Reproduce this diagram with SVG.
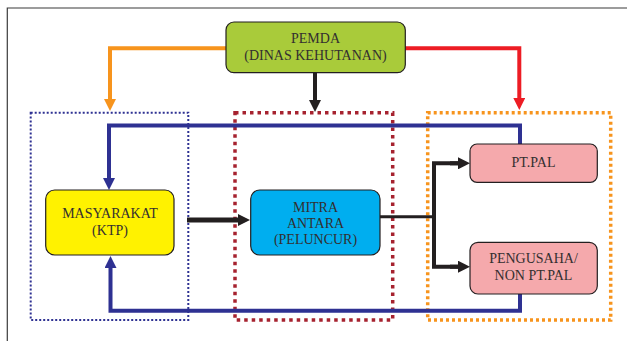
<svg xmlns="http://www.w3.org/2000/svg" width="627" height="341" viewBox="0 0 627 341">
<defs>
<style>
.box{stroke:#231F20;stroke-width:1.2}
.t{font-family:"Liberation Serif","Times New Roman",serif;font-size:14px;fill:#332f30;text-anchor:middle}
.ln{fill:none;stroke-linejoin:miter}
</style>
<marker id="ah-orange" viewBox="0 0 12 12" refX="0" refY="6" markerWidth="12" markerHeight="12" markerUnits="userSpaceOnUse" orient="auto"><path d="M0,0 L12,6 L0,12 z" fill="#F7941D"/></marker>
<marker id="ah-red" viewBox="0 0 12 12" refX="0" refY="6" markerWidth="12" markerHeight="12" markerUnits="userSpaceOnUse" orient="auto"><path d="M0,0 L12,6 L0,12 z" fill="#ED1C24"/></marker>
<marker id="ah-black" viewBox="0 0 12 12" refX="0" refY="6" markerWidth="12" markerHeight="12" markerUnits="userSpaceOnUse" orient="auto"><path d="M0,0 L12,6 L0,12 z" fill="#231F20"/></marker>
<marker id="ah-blue" viewBox="0 0 12 12" refX="0" refY="6" markerWidth="12" markerHeight="12" markerUnits="userSpaceOnUse" orient="auto"><path d="M0,0 L12,6 L0,12 z" fill="#2E3192"/></marker>
</defs>
<rect width="627" height="341" fill="#ffffff"/>
<g id="frame" fill="none" stroke="#3b3b3b" stroke-width="1.2">
<path d="M7.3,341 V8 H627"/>
</g>
<g id="groups" fill="none">
<rect id="group-masyarakat" x="30.7" y="112.7" width="157.6" height="207.3" stroke="#2E3192" stroke-width="2" stroke-dasharray="2 2"/>
<rect id="group-mitra" x="235" y="112.7" width="157.7" height="207.3" stroke="#A6222F" stroke-width="3.5" stroke-dasharray="3.5 4"/>
<rect id="group-pal" x="427.7" y="112.7" width="183" height="207.3" stroke="#F7941D" stroke-width="3.5" stroke-dasharray="3 3"/>
</g>
<g id="connectors" class="ln">
<path d="M226,48.3 H110 V99" stroke="#F7941D" stroke-width="4" marker-end="url(#ah-orange)"/>
<path d="M405,48.3 H519.3 V98" stroke="#ED1C24" stroke-width="4" marker-end="url(#ah-red)"/>
<path d="M315,73 V100" stroke="#231F20" stroke-width="4" marker-end="url(#ah-black)"/>
<path d="M520,144 V125.5 H109 V178" stroke="#2E3192" stroke-width="4" marker-end="url(#ah-blue)"/>
<path d="M520,294 V310.7 H110.5 V268" stroke="#2E3192" stroke-width="4" marker-end="url(#ah-blue)"/>
<path d="M187,220 H238" stroke="#231F20" stroke-width="5" marker-end="url(#ah-black)"/>
<path d="M380,216.7 H434" stroke="#231F20" stroke-width="3"/>
<path d="M458,163.3 H434 V266.7 H458" stroke="#231F20" stroke-width="4"/>
<path d="M450,163.3 H458" stroke="#231F20" stroke-width="4" marker-end="url(#ah-black)"/>
<path d="M450,266.7 H458" stroke="#231F20" stroke-width="4" marker-end="url(#ah-black)"/>
</g>
<g id="pemda">
<rect class="box" x="226" y="22" width="179.3" height="50.7" rx="8" fill="#A9CB3A"/>
<text class="t" x="315.5" y="43">PEMDA</text>
<text class="t" x="315.5" y="60">(DINAS KEHUTANAN)</text>
</g>
<g id="masyarakat">
<rect class="box" x="45.7" y="190" width="128.3" height="65" rx="9" fill="#FFF200"/>
<text class="t" x="110" y="217.5">MASYARAKAT</text>
<text class="t" x="110" y="235">(KTP)</text>
</g>
<g id="mitra">
<rect class="box" x="250.7" y="190" width="129.3" height="65" rx="9" fill="#00AEEF"/>
<text class="t" x="315.5" y="212">MITRA</text>
<text class="t" x="315.5" y="228">ANTARA</text>
<text class="t" x="315.5" y="244">(PELUNCUR)</text>
</g>
<g id="ptpal">
<rect class="box" x="470" y="144" width="127.3" height="38.3" rx="7" fill="#F5A9AC"/>
<text class="t" x="533.5" y="167">PT.PAL</text>
</g>
<g id="pengusaha">
<rect class="box" x="470" y="242.3" width="127.3" height="51.7" rx="8" fill="#F5A9AC"/>
<text class="t" x="533.5" y="263">PENGUSAHA/</text>
<text class="t" x="533.5" y="280">NON PT.PAL</text>
</g>
</svg>
